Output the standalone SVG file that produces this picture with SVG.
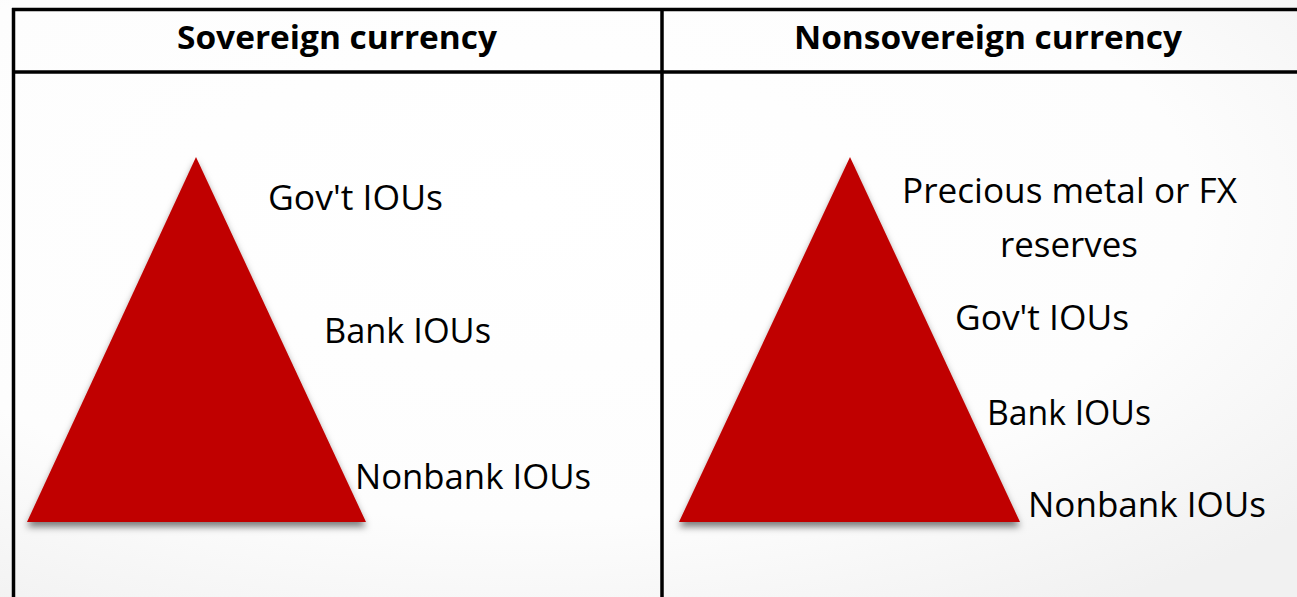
<svg xmlns="http://www.w3.org/2000/svg" width="1297" height="597" viewBox="0 0 1297 597">
  <defs>
    <radialGradient id="bg" cx="0.4" cy="0.35" r="0.8">
      <stop offset="0" stop-color="#ffffff"/>
      <stop offset="0.65" stop-color="#fdfdfd"/>
      <stop offset="1" stop-color="#f1f1f1"/>
    </radialGradient>
    <filter id="shadow" x="-10%" y="-10%" width="120%" height="125%">
      <feDropShadow dx="0" dy="5" stdDeviation="3.5" flood-color="#000" flood-opacity="0.5"/>
    </filter>
    <style>
      .grid { stroke: #000; stroke-width: 3.5; fill: none; }
      .head { font-family: "Open Sans", "Liberation Sans", sans-serif; font-weight: bold; font-size: 33px; fill: #000; }
      .lbl { font-family: "Open Sans", "Liberation Sans", sans-serif; font-size: 34px; fill: #000; }
      .tri { fill: #C00000; filter: url(#shadow); }
    </style>
  </defs>
  <rect x="0" y="0" width="1297" height="597" fill="url(#bg)"/>

  <g id="table" class="grid">
    <line x1="12" y1="9.5" x2="1297" y2="9.5"/>
    <line x1="12" y1="72" x2="1297" y2="72"/>
    <line x1="13.5" y1="8" x2="13.5" y2="597"/>
    <line x1="662" y1="8" x2="662" y2="597"/>
  </g>

  <g id="header-sovereign">
    <text class="head" x="177" y="49" textLength="320" lengthAdjust="spacingAndGlyphs">Sovereign currency</text>
  </g>
  <g id="header-nonsovereign">
    <text class="head" x="794" y="49" textLength="388" lengthAdjust="spacingAndGlyphs">Nonsovereign currency</text>
  </g>

  <g id="pyramid-sovereign">
    <polygon class="tri" points="196,157 366,522 27,522"/>
  </g>
  <g id="pyramid-nonsovereign">
    <polygon class="tri" points="850,157 1020,522 679,522"/>
  </g>

  <g id="labels-sovereign">
    <text class="lbl" x="268" y="210" textLength="175" lengthAdjust="spacingAndGlyphs">Gov't IOUs</text>
    <text class="lbl" x="324" y="343" textLength="167" lengthAdjust="spacingAndGlyphs">Bank IOUs</text>
    <text class="lbl" x="355" y="489" textLength="236" lengthAdjust="spacingAndGlyphs">Nonbank IOUs</text>
  </g>

  <g id="labels-nonsovereign">
    <text class="lbl" x="902" y="203" textLength="335" lengthAdjust="spacingAndGlyphs">Precious metal or FX</text>
    <text class="lbl" x="1000" y="257" textLength="138" lengthAdjust="spacingAndGlyphs">reserves</text>
    <text class="lbl" x="955" y="330" textLength="174" lengthAdjust="spacingAndGlyphs">Gov't IOUs</text>
    <text class="lbl" x="987" y="425" textLength="164" lengthAdjust="spacingAndGlyphs">Bank IOUs</text>
    <text class="lbl" x="1028" y="517" textLength="238" lengthAdjust="spacingAndGlyphs">Nonbank IOUs</text>
  </g>
</svg>
